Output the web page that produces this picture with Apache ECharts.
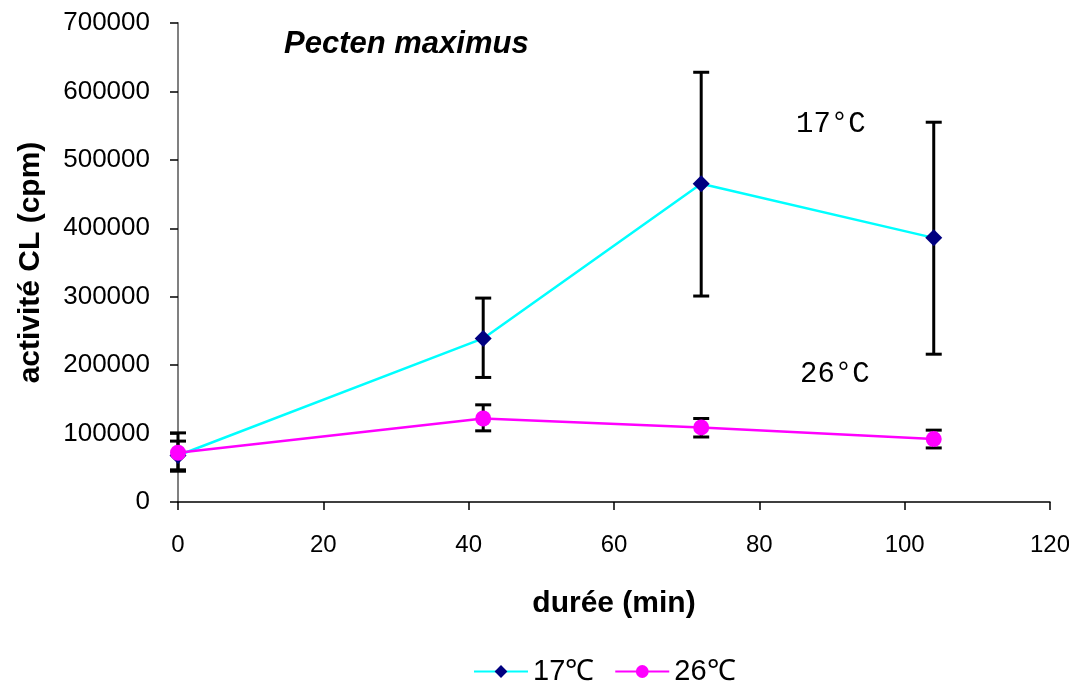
<!DOCTYPE html>
<html>
<head>
<meta charset="utf-8">
<script src="https://cdn.jsdelivr.net/npm/echarts@6/dist/echarts.min.js"></script>
<style>
  html, body { margin: 0; padding: 0; background: #fff; }
  #chart { width: 1069px; height: 683px; }
</style>
</head>
<body>
<div id="chart"></div>
<script>
// Chemiluminescence activity over time, Pecten maximus, two temperatures
const durations = [0, 42, 72, 104];

const mean17 = [68000, 239000, 465000, 386000];
const low17  = [47000, 182000, 301000, 216000];
const high17 = [89000, 298000, 628000, 555000];

const mean26 = [72000, 122000, 109000, 92000];
const low26  = [45000, 104000, 95000, 79000];
const high26 = [101000, 142000, 122000, 105000];

const yTicks = { min: 0, max: 700000, interval: 100000 };
const xTicks = { min: 0, max: 120, interval: 20 };

const FONT = '"Liberation Sans", Arial, sans-serif';
const MONO = '"Liberation Mono", "DejaVu Sans Mono", monospace';

function pairs(xs, ys) { return xs.map((x, i) => [x, ys[i]]); }
function errRows(xs, lo, hi) { return xs.map((x, i) => [x, lo[i], hi[i]]); }

// Vertical error bar with caps, positioned through the chart's scales
function renderErrorBar(params, api) {
  const x = api.value(0);
  const top = api.coord([x, api.value(2)]);
  const bot = api.coord([x, api.value(1)]);
  const half = 8;
  const style = { stroke: '#000', lineWidth: 3 };
  return {
    type: 'group',
    children: [
      { type: 'line', shape: { x1: top[0], y1: top[1], x2: bot[0], y2: bot[1] }, style },
      { type: 'line', shape: { x1: top[0] - half, y1: top[1], x2: top[0] + half, y2: top[1] }, style },
      { type: 'line', shape: { x1: bot[0] - half, y1: bot[1], x2: bot[0] + half, y2: bot[1] }, style }
    ]
  };
}

const chart = echarts.init(document.getElementById('chart'), null, { renderer: 'canvas' });

chart.setOption({
  animation: false,
  backgroundColor: '#fff',
  textStyle: { fontFamily: FONT },
  title: {
    text: 'Pecten maximus',
    left: 279,
    top: 24,
    textStyle: { fontFamily: FONT, fontSize: 31, fontWeight: 'bold', fontStyle: 'italic', color: '#000' }
  },
  graphic: [
    { type: 'text', left: 796, top: 110, style: { text: '17°C', font: '29px ' + MONO, fill: '#000' } },
    { type: 'text', left: 800, top: 360, style: { text: '26°C', font: '29px ' + MONO, fill: '#000' } }
  ],
  legend: {
    top: 652,
    left: 468,
    itemWidth: 54,
    itemHeight: 16,
    itemGap: 20,
    textStyle: { fontFamily: FONT, fontSize: 29, color: '#000' },
    data: ['17℃', '26℃']
  },
  grid: { left: 178, right: 19, top: 23, bottom: 181, outerBoundsMode: 'none', containLabel: false },
  xAxis: {
    type: 'value',
    min: xTicks.min, max: xTicks.max, interval: xTicks.interval,
    name: 'durée (min)',
    nameLocation: 'middle',
    nameGap: 87,
    nameTextStyle: { fontFamily: FONT, fontSize: 30, fontWeight: 'bold', color: '#000' },
    axisLine: { onZero: false, lineStyle: { color: '#000', width: 1.5 } },
    axisTick: { show: true, inside: false, length: 8, lineStyle: { color: '#000', width: 1.5 } },
    axisLabel: { margin: 31, fontSize: 24, color: '#000', fontFamily: FONT },
    splitLine: { show: false }
  },
  yAxis: {
    type: 'value',
    min: yTicks.min, max: yTicks.max, interval: yTicks.interval,
    name: 'activité CL (cpm)',
    nameLocation: 'middle',
    nameGap: 132,
    nameRotate: 90,
    nameTextStyle: { fontFamily: FONT, fontSize: 30, fontWeight: 'bold', color: '#000' },
    axisLine: { show: true, lineStyle: { color: '#808080', width: 2 } },
    axisTick: { show: true, inside: false, length: 8, lineStyle: { color: '#000', width: 1.5 } },
    axisLabel: { margin: 28, fontSize: 26, color: '#000', fontFamily: FONT, formatter: v => String(v) },
    splitLine: { show: false }
  },
  series: [
    {
      name: '17℃ err',
      type: 'custom',
      renderItem: renderErrorBar,
      data: errRows(durations, low17, high17),
      encode: { x: 0, y: [1, 2] },
      z: 1,
      silent: true
    },
    {
      name: '26℃ err',
      type: 'custom',
      renderItem: renderErrorBar,
      data: errRows(durations, low26, high26),
      encode: { x: 0, y: [1, 2] },
      z: 1,
      silent: true
    },
    {
      name: '17℃',
      type: 'line',
      data: pairs(durations, mean17),
      symbol: 'diamond',
      symbolSize: 17,
      showAllSymbol: true,
      lineStyle: { color: '#00FFFF', width: 2.5 },
      itemStyle: { color: '#000080', borderWidth: 0 },
      z: 3
    },
    {
      name: '26℃',
      type: 'line',
      data: pairs(durations, mean26),
      symbol: 'circle',
      symbolSize: 16,
      showAllSymbol: true,
      lineStyle: { color: '#FF00FF', width: 2.5 },
      itemStyle: { color: '#FF00FF', borderWidth: 0 },
      z: 4
    }
  ]
});
</script>
</body>
</html>
